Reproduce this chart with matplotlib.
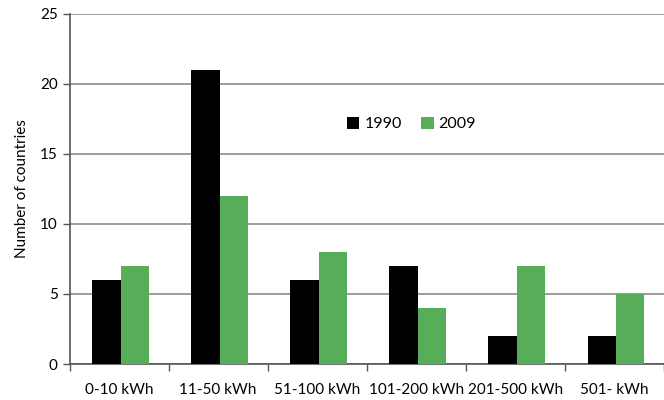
import matplotlib
matplotlib.use("Agg")
import matplotlib.pyplot as plt
import numpy as np
from matplotlib.ticker import FixedLocator

categories = ["0-10 kWh", "11-50 kWh", "51-100 kWh", "101-200 kWh", "201-500 kWh", "501- kWh"]
values_1990 = [6, 21, 6, 7, 2, 2]
values_2009 = [7, 12, 8, 4, 7, 5]
series_labels = ["1990", "2009"]

plt.rcParams['font.family'] = ['Lato', 'DejaVu Sans']

fig = plt.figure(figsize=(6.64, 4.0), dpi=100)
ax = fig.add_axes([0.1047, 0.09, 0.895, 0.876])

x = np.arange(len(categories))
w = 0.285
ax.bar(x - w/2 + 0.015, values_1990, width=w, color='black', label=series_labels[0], zorder=3)
ax.bar(x + w/2 + 0.015, values_2009, width=w, color='#58ae58', label=series_labels[1], zorder=3)

ax.set_xlim(-0.5, len(categories) - 0.5)
ax.set_ylim(0, 25)
ax.set_yticks([0, 5, 10, 15, 20, 25])
ax.yaxis.grid(True, color='#8c8c8c', linewidth=1.2, zorder=0)
ax.set_axisbelow(True)

ax.set_xticks(x)
ax.set_xticklabels(categories)
ax.xaxis.set_minor_locator(FixedLocator(np.arange(-0.5, len(categories), 1.0)))
ax.tick_params(axis='x', which='major', length=0, pad=14, labelsize=11)
ax.tick_params(axis='x', which='minor', length=5, width=1, color='#555555')
ax.tick_params(axis='y', length=5, width=1, labelsize=11, color='#555555')

for s in ['top', 'right']:
    ax.spines[s].set_visible(False)
for s in ['left', 'bottom']:
    ax.spines[s].set_color('#555555')
    ax.spines[s].set_linewidth(1.2)

ax.set_ylabel("Number of countries", fontsize=11, labelpad=8)

leg = ax.legend(loc='center', bbox_to_anchor=(0.575, 0.685), ncol=2, frameon=False,
                fontsize=11.5, handlelength=0.8, handleheight=0.8, handletextpad=0.3,
                columnspacing=1.2)

fig.savefig("out.png", dpi=100)
